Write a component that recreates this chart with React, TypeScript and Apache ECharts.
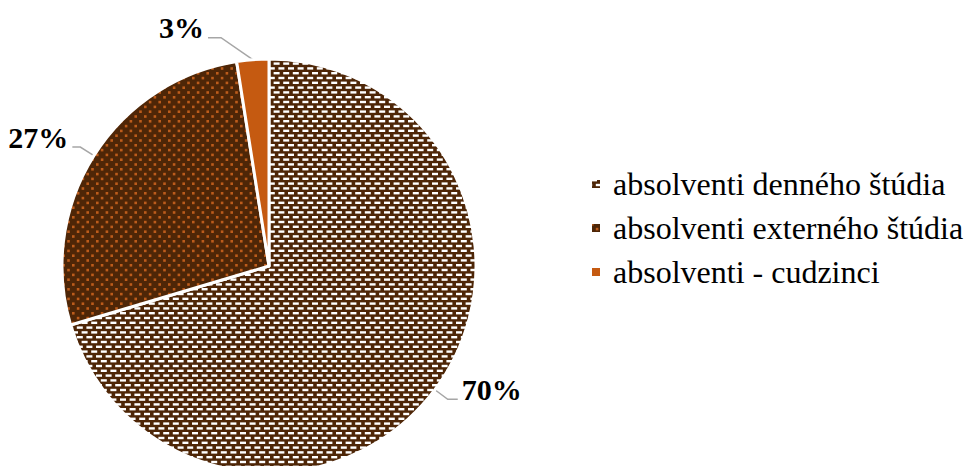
import React, { useEffect, useRef } from "react";
import * as echarts from "echarts";

const categories = [
  "absolventi denného štúdia",
  "absolventi externého štúdia",
  "absolventi - cudzinci",
];
const shares = [70.4, 27.1, 2.5];

const DARK = "#4E2607";
const ORANGE = "#C55A11";
const DOT = "#BC5C1C";
const LINE = "#A6A6A6";
const FONT = "serif";

function latticeTile(fg: string, w: number, h: number): HTMLCanvasElement {
  const c = document.createElement("canvas");
  c.width = 48;
  c.height = 48;
  const ctx = c.getContext("2d")!;
  ctx.fillStyle = DARK;
  ctx.fillRect(0, 0, 48, 48);
  ctx.fillStyle = fg;
  const px = 9.6;
  const py = 4.8;
  for (let k = 0; k < 10; k++) {
    for (let j = -1; j < 6; j++) {
      const x = j * px + (k % 2) * (px / 2);
      const y = k * py;
      ctx.fillRect(x, y, w, h);
    }
  }
  return c;
}

export default function App() {
  const ref = useRef<HTMLDivElement>(null);
  useEffect(() => {
    if (!ref.current) return;
    const chart = echarts.init(ref.current, null, { renderer: "svg" });
    const fills: any[] = [
      { image: latticeTile("#FFFFFF", 6, 2.4), repeat: "repeat" },
      { image: latticeTile(DOT, 2.6, 2.6), repeat: "repeat" },
      ORANGE,
    ];
    const lineCfg = [
      { length: 16, length2: 10 },
      { length: 16, length2: 8 },
      { length: 22, length2: 43 },
    ];
    chart.setOption({
      animation: false,
      backgroundColor: "#FFFFFF",
      textStyle: { fontFamily: FONT },
      legend: {
        orient: "vertical",
        left: 590,
        top: 168,
        padding: 0,
        itemWidth: 10,
        itemHeight: 10,
        itemGap: 12,
        icon: "rect",
        selectedMode: false,
        textStyle: {
          fontFamily: FONT,
          fontSize: 32,
          color: "#000000",
          padding: [0, 0, 0, 7],
        },
        data: categories,
      },
      series: [
        {
          type: "pie",
          center: [269, 266],
          radius: [0, 207],
          startAngle: 90,
          clockwise: true,
          avoidLabelOverlap: false,
          emphasis: { disabled: true },
          itemStyle: { borderColor: "#FFFFFF", borderWidth: 3 },
          label: {
            show: true,
            position: "outside",
            formatter: (p: any) => "{v|" + Math.round(p.value) + "%}\n{g| }",
            distanceToLabelLine: 4,
            rich: {
              v: {
                fontFamily: FONT,
                fontWeight: "bold",
                fontSize: 30,
                lineHeight: 32,
                color: "#000000",
              },
              g: { fontFamily: FONT, fontSize: 10, lineHeight: 20 },
            },
          },
          labelLine: {
            show: true,
            lineStyle: { color: LINE, width: 1.5 },
          },
          labelLayout: (params: any) => {
            const pts = params.labelLinePoints;
            if (!pts || pts.length < 3) return {};
            if (params.dataIndex === 2) {
              return {
                labelLinePoints: [pts[0], [pts[1][0] - 30, pts[1][1]], pts[2]],
              };
            }
            return {};
          },
          data: categories.map((name, i) => ({
            name,
            value: shares[i],
            itemStyle: { color: fills[i] },
            labelLine: lineCfg[i],
          })),
        },
      ],
    });
    return () => chart.dispose();
  }, []);
  return (
    <div
      ref={ref}
      style={{ position: "fixed", left: 0, top: 0, width: 965, height: 466 }}
    />
  );
}
